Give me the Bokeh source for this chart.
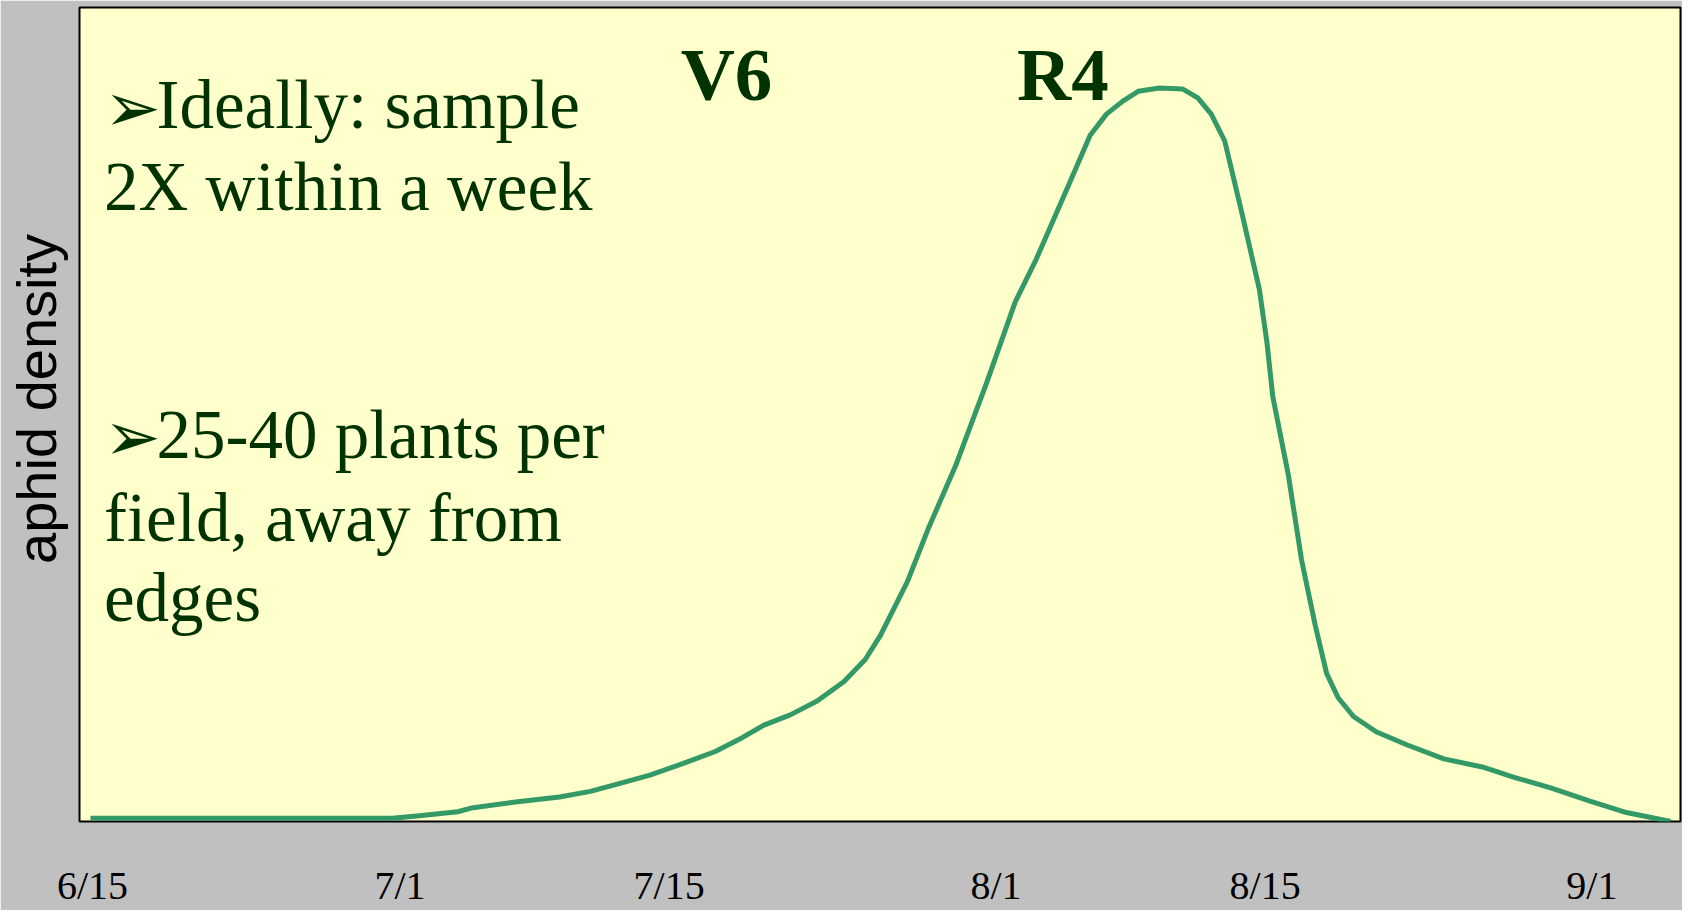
from bokeh.plotting import figure
from bokeh.models import FixedTicker, Label, Range1d
from bokeh.embed import file_html
from bokeh.resources import INLINE

# ---- data (days after 6/15, relative aphid density 0-100) ----
tick_days = [0, 16, 30, 47, 61, 78]
tick_labels = ["6/15", "7/1", "7/15", "8/1", "8/15", "9/1"]

days = [-0.1, 15.6, 17.0, 19.0, 19.8, 22.0, 24.3, 25.9, 27.3, 29.0, 30.7, 32.4,
        33.8, 34.9, 36.3, 37.7, 39.1, 40.2, 41.0, 42.4, 43.5, 44.9, 46.5, 48.0,
        49.1, 50.8, 51.9, 52.75, 53.6, 54.4, 55.5, 56.7, 57.5, 58.2, 58.9, 59.7,
        60.7, 61.1, 61.4, 62.2, 62.9, 63.6, 64.2, 64.8, 65.6, 66.8, 68.4, 70.3,
        72.3, 74.0, 75.9, 77.9, 79.8, 82.1]
density = [0.4, 0.4, 0.7, 1.2, 1.7, 2.4, 3.0, 3.7, 4.6, 5.7, 7.1, 8.6,
           10.3, 11.8, 13.1, 14.8, 17.2, 19.9, 22.9, 29.5, 36.1, 43.7, 53.8, 63.8,
           69.1, 78.3, 84.3, 86.9, 88.5, 89.7, 90.1, 90.0, 88.9, 86.9, 83.6, 75.7,
           65.4, 58.8, 52.2, 42.7, 32.1, 24.2, 18.2, 15.2, 12.9, 11.0, 9.4, 7.7,
           6.7, 5.4, 4.1, 2.5, 1.1, 0.0]

TEXT_GREEN = "#003300"
LINE_GREEN = "#339966"

p = figure(width=1682, height=910, output_backend="svg", toolbar_location=None,
           x_range=Range1d(-0.673, 82.61), y_range=Range1d(0, 100),
           min_border_left=79, min_border_right=2, min_border_top=7,
           min_border_bottom=0)

p.background_fill_color = "#FFFFCC"
p.border_fill_color = "#C0C0C0"
p.outline_line_color = "black"
p.outline_line_width = 2
p.grid.visible = False

# x axis: tick labels only
p.xaxis.ticker = FixedTicker(ticks=tick_days)
p.xaxis.major_label_overrides = {d: l for d, l in zip(tick_days, tick_labels)}
p.xaxis.axis_line_color = None
p.xaxis.major_tick_line_color = None
p.xaxis.minor_tick_line_color = None
p.xaxis.major_label_text_font = "Liberation Serif"
p.xaxis.major_label_text_font_size = "40px"
p.xaxis.major_label_text_color = "black"
p.xaxis.major_label_text_line_height = 0.9
p.xaxis.major_label_standoff = 35

# y axis (label only)
p.yaxis.ticker = FixedTicker(ticks=[])
p.yaxis.axis_line_color = None
p.yaxis.major_tick_line_color = None
p.yaxis.minor_tick_line_color = None
p.yaxis.axis_label = "\u00a0\u00a0aphid density"
p.yaxis.axis_label_text_font = "Liberation Sans"
p.yaxis.axis_label_text_font_style = "normal"
p.yaxis.axis_label_text_font_size = "56px"
p.yaxis.axis_label_text_color = "black"
p.yaxis.axis_label_standoff = 12

p.line(days, density, line_color=LINE_GREEN, line_width=5)

def add_text(x, y, txt, bold=False, size="69px", font="Liberation Serif"):
    p.add_layout(Label(x=x, y=y, text=txt, text_font=font,
                       text_font_size=size, text_color=TEXT_GREEN,
                       text_font_style="bold" if bold else "normal",
                       text_baseline="alphabetic", text_align="left"))

ARROW = "\u27a2"
add_text(0.6, 87.7, ARROW, size="68px")
add_text(3.33, 88.0, "Ideally: sample")
add_text(0.6, 78.0, "2X within a week")
add_text(0.6, 47.2, ARROW, size="68px")
add_text(3.33, 47.5, "25-40 plants per")
add_text(0.6, 37.3, "field, away from")
add_text(0.6, 27.4, "edges")
add_text(30.6, 91.8, "V6", bold=True, size="75px")
add_text(48.1, 91.8, "R4", bold=True, size="75px")

open("out.html", "w").write(file_html(p, INLINE))
